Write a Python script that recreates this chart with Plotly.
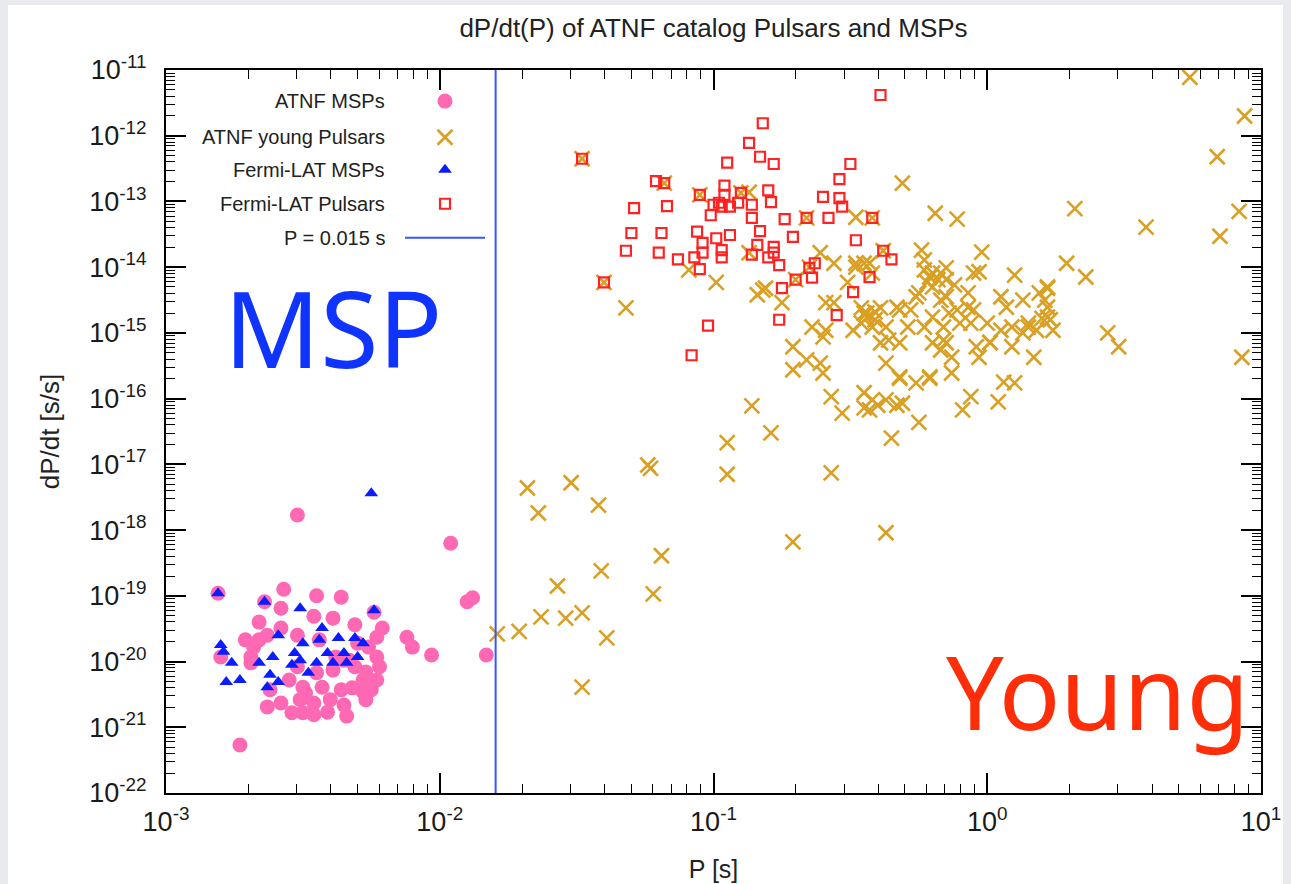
import numpy as np
import plotly.graph_objects as go

# ---------------- data (log10 P [s], log10 dP/dt [s/s]) ----------------
atnf_msp_logP = [-2.52, -1.96, -1.90, -1.88, -1.83, -2.03, -2.12, -2.10, -2.73, -2.34,
                 -2.81, -2.57, -2.45, -2.36, -2.58, -2.46, -2.39, -2.58, -2.63, -2.52,
                 -2.21, -2.23, -2.68, -2.69, -2.80, -2.26, -2.23, -2.22, -2.23, -2.28,
                 -2.32, -2.28, -2.40, -2.43, -2.49, -2.50, -2.46, -2.63, -2.58, -2.54,
                 -2.50, -2.46, -2.45, -2.39, -2.33, -2.27, -2.52, -2.62, -2.69, -2.38,
                 -2.30, -2.64, -2.24, -2.66, -2.44, -2.36, -2.35, -2.27, -2.31,
                 -2.55, -2.41, -2.35, -2.51, -2.25, -2.66, -2.71, -2.31]
atnf_msp_logPdot = [-17.77, -18.20, -19.09, -19.03, -19.90, -19.90, -19.63, -19.78, -21.27, -20.83,
                    -18.96, -18.90, -19.00, -19.02, -19.19, -19.31, -19.34, -19.49, -19.60, -19.60,
                    -19.49, -19.63, -19.78, -19.93, -19.93, -19.78, -19.93, -20.08, -20.28, -20.28,
                    -20.40, -20.46, -20.58, -20.39, -20.48, -20.39, -20.63, -20.69, -20.63, -20.78,
                    -20.78, -20.81, -20.17, -20.13, -19.98, -20.16, -20.08, -20.43, -20.02, -19.93,
                    -19.72, -19.09, -19.25, -19.67, -19.67, -20.43, -20.66, -20.58, -20.08,
                    -20.28, -20.77, -19.98, -20.58, -20.43, -19.40, -19.67, -19.44]

young_logP = [-1.79, -1.71, -1.63, -1.54, -1.48, -1.57, -1.41, -1.22, -1.19, -1.39,
              -1.48, -1.68, -1.64, -1.52, -1.42, -1.24, -1.23, -0.95, -0.95, -0.86,
              -0.79, -0.71, -0.37, -0.57, -0.53, -0.45, -0.40, -0.33, -0.25, -0.35,
              -0.57, -0.09, -0.06, 0.04, 0.06, 0.10, -0.21, -0.32, 0.44, 0.48,
              0.93, -0.42, -0.37, -0.31, -0.43, -0.45,
              -1.48, -1.40, -1.32, -0.99, -0.84, -0.82, -0.75, -1.18, -1.05, -0.90,
              -0.87, -0.66, -0.42, -0.48, -0.31, -0.19, -0.11, -1.09, -0.87, -0.61,
              -0.56, -0.48, -0.43, -0.65, -0.70, -0.38, -0.51, -0.81,
              0.74, 0.94, 0.84, 0.92, 0.85, 0.58, 0.32, 0.29, 0.36,
              -0.24, -0.02, -0.03, 0.10, -0.48, -0.45, -0.59, -0.44, -0.41, -0.46,
              -0.37, -0.32, -0.28, -0.26, -0.21, -0.17, -0.15, -0.23, -0.20, -0.15,
              -0.11, -0.07, -0.05, -0.20, -0.16, -0.10, -0.06, 0.00, 0.05, 0.07,
              0.13, 0.15, 0.19, 0.22, 0.22, 0.23, 0.24, 0.09, 0.13, 0.18,
              -0.71, -0.66, -0.61, -0.71, -0.64, -0.59, -0.60, -0.49, -0.39, -0.32,
              -0.23, -0.20, -0.16, -0.17, -0.13, -0.13, -0.04, 0.01, -0.03, 0.09,
              0.17, -0.37, -0.32, -0.26, -0.21, 0.21, 0.22, 0.15, 0.01, 0.22,
              -0.25, -0.17, -0.14, -0.07, -0.56, -0.45, -0.39, -0.42, -0.33, -0.29,
              -0.60, -0.36, -0.15, -0.05, -0.23, -0.20, -0.42, -0.18, -0.15, -0.22,
              -0.44, -0.46, -0.41, -0.12, 0.20, 0.05]
young_logPdot = [-19.58, -19.54, -19.32, -19.34, -19.26, -18.85, -18.62, -18.97, -18.39, -19.64,
                 -20.39, -17.36, -17.74, -17.28, -17.62, -17.01, -17.06, -16.67, -17.15, -16.11,
                 -16.52, -18.18, -18.04, -17.13, -16.22, -16.14, -16.10, -16.10, -16.36, -16.60,
                 -15.97, -16.17, -15.97, -16.05, -15.75, -15.76, -15.69, -15.69, -15.00, -15.21,
                 -15.37, -16.02, -16.02, -16.07, -16.17, -15.91,
                 -12.35, -14.23, -14.62, -14.23, -14.42, -14.35, -14.54, -12.72, -12.90, -12.87,
                 -12.86, -13.25, -13.25, -13.24, -12.72, -13.18, -13.27, -14.04, -13.78, -13.78,
                 -13.94, -14.00, -13.94, -14.00, -14.19, -13.75, -14.23, -14.32,
                 -11.11, -11.70, -12.32, -13.15, -13.53, -13.39, -13.11, -13.94, -14.15,
                 -13.74, -13.77, -14.07, -14.12, -13.94, -13.94, -14.54, -14.70, -14.80, -14.85,
                 -14.91, -14.65, -14.65, -14.45, -14.15, -14.09, -14.19, -14.04, -14.30, -14.45,
                 -14.65, -14.39, -14.65, -14.76, -14.91, -14.85, -14.85, -14.85, -14.45, -14.61,
                 -14.50, -14.85, -14.39, -14.30, -14.61, -14.80, -14.96, -14.91, -15.00, -14.96,
                 -15.21, -15.41, -15.46, -15.56, -14.91, -14.96, -15.61, -14.96, -15.15, -15.15,
                 -14.91, -15.15, -15.11, -15.26, -15.37, -15.61, -15.21, -15.15, -15.37, -15.21,
                 -15.37, -15.46, -15.67, -15.76, -15.67, -14.50, -14.76, -14.91, -15.14, -14.32,
                 -14.39, -14.50, -14.70, -14.61, -14.54, -14.70, -14.62, -14.91, -14.61, -14.91,
                 -15.06, -15.11, -15.15, -14.09, -13.89, -14.09, -14.09, -14.19, -14.01, -14.23,
                 -14.77, -14.62, -14.68, -14.27, -14.78, -14.96]

fermi_msp_logP = [-2.81, -2.64, -2.51, -2.24, -2.43, -2.59, -2.37, -2.31, -2.28, -2.50,
                  -2.44, -2.80, -2.79, -2.53, -2.41, -2.35, -2.61, -2.76, -2.66, -2.51,
                  -2.54, -2.45, -2.39, -2.34, -2.30, -2.48, -2.62, -2.59, -2.63, -2.78,
                  -2.73, -2.25]
fermi_msp_logPdot = [-18.96, -19.09, -19.19, -19.22, -19.49, -19.60, -19.64, -19.64, -19.72, -19.72,
                     -19.67, -19.75, -19.85, -19.87, -19.87, -19.87, -19.93, -20.02, -20.02, -19.98,
                     -20.05, -20.02, -20.02, -20.02, -19.93, -20.17, -20.20, -20.31, -20.39, -20.31,
                     -20.28, -17.44]

fermi_psr_logP = [-0.39, -0.82, -0.87, -0.83, -0.78, -0.95, -0.50, -0.54, -1.48, -1.21,
                  -1.18, -1.05, -0.96, -0.96, -0.98, -0.97, -1.00, -0.90, -0.91, -0.80,
                  -0.79, -0.86, -0.86, -1.29, -1.17, -1.01, -0.94, -0.74, -0.66, -0.60,
                  -0.54, -0.53, -0.58, -0.42, -1.30, -1.19, -1.06, -0.83, -0.71, -0.48,
                  -1.32, -1.20, -1.13, -1.07, -1.04, -1.04, -0.99, -0.94, -0.97, -0.97,
                  -1.05, -0.84, -0.80, -0.78, -0.78, -0.76, -0.86, -0.63, -0.65, -0.64,
                  -0.70, -0.75, -0.43, -0.38, -0.35, -0.49, -0.55, -1.40, -1.02, -0.76,
                  -1.08]
fermi_psr_logPdot = [-11.38, -11.81, -12.11, -12.32, -12.43, -12.41, -12.43, -12.66, -12.35, -12.69,
                     -12.72, -12.90, -12.76, -12.90, -13.02, -13.08, -13.05, -12.87, -13.02, -12.83,
                     -13.01, -13.05, -13.25, -13.10, -13.07, -13.21, -13.08, -13.27, -13.25, -12.93,
                     -12.95, -13.08, -13.25, -13.25, -13.48, -13.48, -13.46, -13.45, -13.54, -13.59,
                     -13.75, -13.78, -13.88, -13.85, -13.78, -13.63, -13.56, -13.51, -13.74, -13.85,
                     -14.03, -13.66, -13.85, -13.69, -13.78, -13.97, -13.81, -13.94, -14.01, -14.16,
                     -14.19, -14.32, -14.15, -13.75, -13.88, -14.38, -14.73, -14.23, -14.89, -14.80,
                     -15.34]

P_cut = 0.016  # position of the vertical divider line (labelled P = 0.015 s)

x_tick_exps = [-3, -2, -1, 0, 1]
y_tick_exps = list(range(-22, -10))

legend_names = ["ATNF MSPs", "ATNF young Pulsars", "Fermi-LAT MSPs", "Fermi-LAT Pulsars", "P = 0.015 s"]

# ---------------- styles ----------------
C_PINK = "#ff69b4"
C_GOLD = "#d9a024"
C_BLUE = "#0c1cff"
C_RED = "#ff2222"
C_LINE = "#3a52ff"
FONT = "Liberation Sans, Arial, sans-serif"

def pw(a):
    return list(10.0 ** np.asarray(a))

fig = go.Figure()

fig.add_trace(go.Scatter(x=pw(atnf_msp_logP), y=pw(atnf_msp_logPdot), mode="markers",
                         name=legend_names[0],
                         marker=dict(symbol="circle", size=15, color=C_PINK, line=dict(width=0))))
fig.add_trace(go.Scatter(x=pw(young_logP), y=pw(young_logPdot), mode="markers",
                         name=legend_names[1],
                         marker=dict(symbol="x-thin", size=15, color=C_GOLD,
                                     line=dict(width=2.6, color=C_GOLD))))
fig.add_trace(go.Scatter(x=pw(fermi_msp_logP), y=pw(fermi_msp_logPdot), mode="markers",
                         name=legend_names[2],
                         marker=dict(symbol="triangle-up", size=12, color=C_BLUE, line=dict(width=0))))
fig.add_trace(go.Scatter(x=pw(fermi_psr_logP), y=pw(fermi_psr_logPdot), mode="markers",
                         name=legend_names[3],
                         marker=dict(symbol="square-open", size=10, color=C_RED,
                                     line=dict(width=2.2, color=C_RED))))
fig.add_trace(go.Scatter(x=[P_cut, P_cut], y=[10.0 ** y_tick_exps[0], 10.0 ** y_tick_exps[-1]],
                         mode="lines", name=legend_names[4],
                         line=dict(color=C_LINE, width=2)))

# ---------------- gnuplot-like key (text right, symbol on the right) ----------------
key_y = [0.957, 0.907, 0.862, 0.815, 0.768]
key_sym_x = 0.2548
key_text_x = 0.202
sym_styles = [
    dict(symbol="circle", size=15, color=C_PINK, line=dict(width=0)),
    dict(symbol="x-thin", size=15, color=C_GOLD, line=dict(width=2.6, color=C_GOLD)),
    dict(symbol="triangle-up", size=12, color=C_BLUE, line=dict(width=0)),
    dict(symbol="square-open", size=10, color=C_RED, line=dict(width=2.2, color=C_RED)),
]
for i, st in enumerate(sym_styles):
    fig.add_trace(go.Scatter(x=[key_sym_x], y=[key_y[i]], xaxis="x2", yaxis="y2", mode="markers",
                             marker=st, showlegend=False, hoverinfo="skip"))
fig.add_trace(go.Scatter(x=[0.2183, 0.2913], y=[key_y[4], key_y[4]], xaxis="x2", yaxis="y2",
                         mode="lines", line=dict(color=C_LINE, width=2),
                         showlegend=False, hoverinfo="skip"))

annotations = []
for i, nm in enumerate(legend_names):
    annotations.append(dict(x=key_text_x, y=key_y[i], xref="paper", yref="paper", text=nm,
                            showarrow=False, xanchor="right", yanchor="middle",
                            font=dict(family=FONT, size=20, color="#222222")))

annotations.append(dict(x=(333 - 166) / 1095, y=(793 - 327) / 723, xref="paper", yref="paper",
                        text="MSP", showarrow=False, xanchor="center", yanchor="middle",
                        font=dict(family="Noto Sans, sans-serif", size=106, color="#1034ff")))
annotations.append(dict(x=(1097 - 166) / 1095, y=(793 - 690) / 723, xref="paper", yref="paper",
                        text="Young", showarrow=False, xanchor="center", yanchor="middle",
                        font=dict(family="Noto Sans, sans-serif", size=102, color="#ff2e08")))

axis_common = dict(
    type="log", showgrid=False, zeroline=False, automargin=False,
    showline=True, linecolor="black", linewidth=2, mirror="allticks",
    ticks="inside", tickcolor="black", tickwidth=1.5, ticklen=20,
    tickfont=dict(family=FONT, size=27, color="#1a1a1a"),
    minor=dict(ticks="inside", ticklen=9, tickcolor="black", tickwidth=1, dtick="D1", showgrid=False),
)

fig.update_layout(
    width=1291, height=884,
    margin=dict(l=166, r=30, t=70, b=91),
    paper_bgcolor="#e8eaed",
    plot_bgcolor="white",
    showlegend=False,
    title=dict(text="dP/dt(P) of ATNF catalog Pulsars and MSPs", x=0.5, xref="paper",
               y=1 - 28 / 884, yref="container", xanchor="center", yanchor="middle",
               font=dict(family=FONT, size=26, color="#222222")),
    xaxis=dict(axis_common, range=[x_tick_exps[0], x_tick_exps[-1]],
               tickmode="array", tickvals=[10.0 ** e for e in x_tick_exps],
               ticktext=[f"10<sup>{e}</sup>" for e in x_tick_exps],
               ticklabelstandoff=4,
               title=dict(text="P [s]", standoff=24, font=dict(family=FONT, size=25, color="#222222"))),
    yaxis=dict(axis_common, range=[y_tick_exps[0], y_tick_exps[-1]],
               tickmode="array", tickvals=[10.0 ** e for e in y_tick_exps],
               ticktext=[f"10<sup>{e}</sup>" for e in y_tick_exps],
               ticklabelstandoff=12,
               title=dict(text="dP/dt [s/s]", standoff=22, font=dict(family=FONT, size=26, color="#222222"))),
    xaxis2=dict(range=[0, 1], overlaying="x", anchor="y2", visible=False, fixedrange=True),
    yaxis2=dict(range=[0, 1], overlaying="y", anchor="x2", visible=False, fixedrange=True),
    annotations=annotations,
    shapes=[dict(type="rect", xref="paper", yref="paper",
                 x0=(8 - 166) / 1095, x1=(1283 - 166) / 1095,
                 y0=(793 - 884) / 723, y1=(793 - 5) / 723,
                 fillcolor="white", line=dict(width=0), layer="below")],
)

fig.write_html("out.html")
